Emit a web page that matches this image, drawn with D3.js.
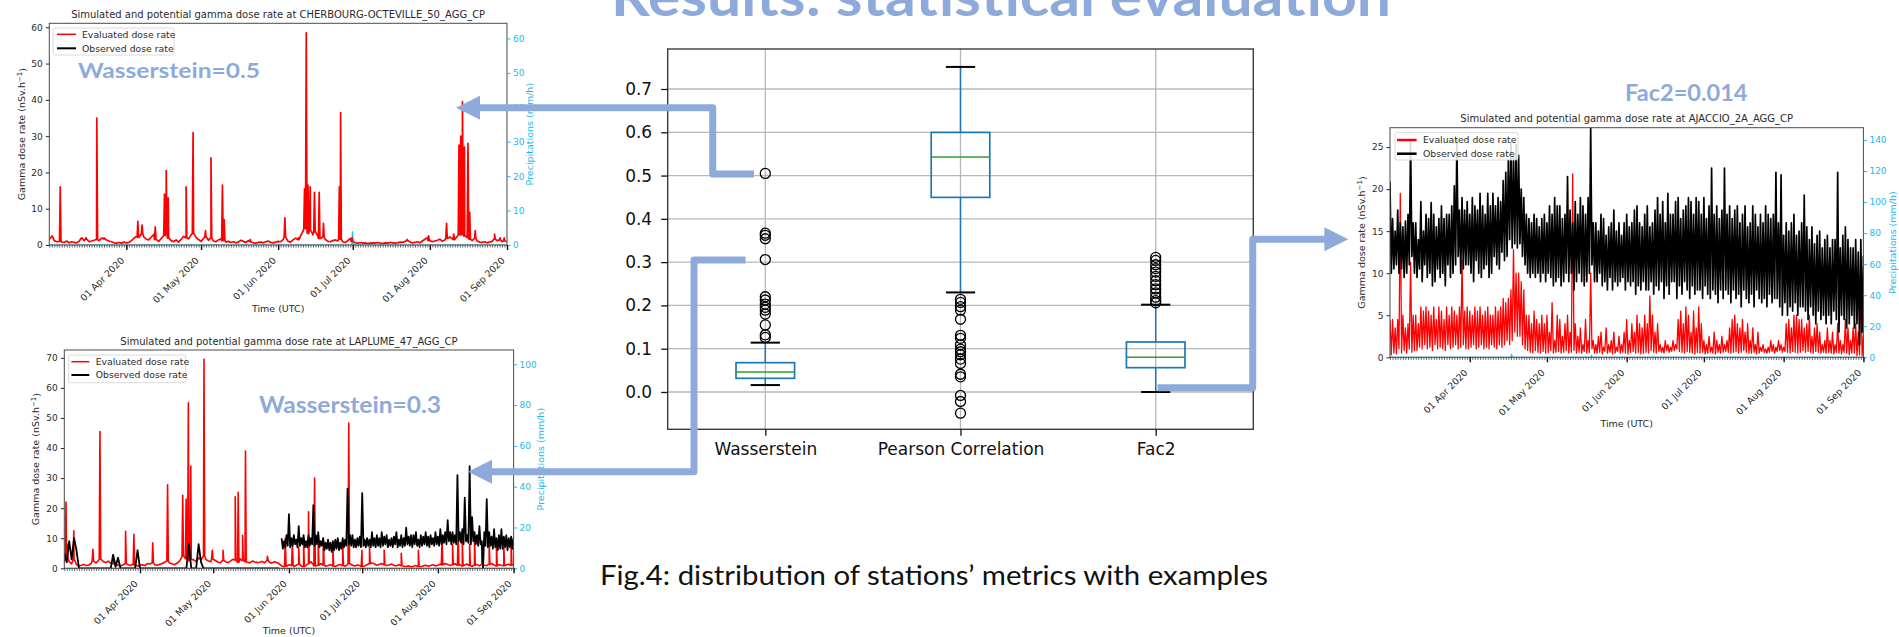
<!DOCTYPE html>
<html><head><meta charset="utf-8">
<script src="https://cdn.jsdelivr.net/npm/d3@7"></script>
<style>body{margin:0;background:#fff}svg{display:block}</style>
</head><body>
<svg id="c" width="1899" height="637"></svg>
<script>
// ---------------- DATA ----------------
const metricNames = ["Wasserstein", "Pearson Correlation", "Fac2"];
const boxQ1 = [0.0316, 0.4496, 0.0562];
const boxMedian = [0.0462, 0.543, 0.0801];
const boxQ3 = [0.0677, 0.5997, 0.1155];
const whiskerLow = [0.016, 0.230, 0.0];
const whiskerHigh = [0.114, 0.751, 0.2017];
const outliersWasserstein = [0.505,0.367,0.362,0.354,0.306,0.220,0.2125,0.203,0.1955,0.189,0.180,0.155,0.132,0.126];
const outliersPearson = [0.214,0.207,0.197,0.189,0.168,0.131,0.124,0.109,0.099,0.093,0.086,0.076,0.066,0.041,0.035,-0.008,-0.022,-0.049];
const outliersFac2 = [0.311,0.304,0.294,0.285,0.277,0.267,0.257,0.248,0.238,0.229,0.219,0.211,0.206];
const boxTicks = [0.0,0.1,0.2,0.3,0.4,0.5,0.6,0.7];

// time series: index / first value = days since 01 Mar 2020 (UTC)
const monthTicks = ["2020-04-01","2020-05-01","2020-06-01","2020-07-01","2020-08-01","2020-09-01"];

const cherbourgEvalBase = [
1.5,2.2,1.2,0.9,1.0,0.8,0.7,1.1,0.6,0.9,
0.7,0.6,1.0,1.8,1.2,1.6,0.9,1.1,1.3,1.5,
1.2,1.9,1.7,1.4,1.1,0.9,0.6,0.5,0.7,0.5,
0.8,0.6,0.7,1.2,1.8,2.4,2.1,3.0,2.2,1.6,
1.4,2.2,2.9,1.5,1.0,1.8,2.6,3.1,1.9,1.2,
0.9,1.4,0.8,1.6,2.4,2.0,1.7,2.8,3.2,2.1,
1.5,1.0,1.8,2.2,1.3,1.9,1.1,0.9,1.4,1.7,
1.2,0.8,1.0,0.7,0.9,0.6,0.8,1.3,1.0,0.7,
1.2,0.9,0.6,0.5,0.7,0.8,0.6,0.9,1.1,0.7,
0.6,0.8,1.0,0.9,1.5,2.2,1.0,0.8,1.4,1.9,
1.5,2.5,3.8,4.5,3.2,4.0,2.8,3.6,2.4,1.8,
2.2,1.5,1.0,0.9,1.2,1.4,1.1,1.6,0.9,0.7,
1.2,1.8,1.0,0.6,0.5,0.7,0.5,0.6,0.4,0.5,
0.6,0.5,0.7,0.5,0.4,0.6,0.5,0.7,0.6,0.5,
0.6,0.8,0.7,1.0,1.2,0.8,0.6,0.7,0.9,0.6,
1.1,1.6,2.0,1.2,0.9,1.1,1.3,1.6,1.0,1.4,
1.8,2.2,1.7,1.5,2.4,2.8,3.0,2.5,2.0,1.6,
1.2,1.8,1.1,0.8,0.7,0.9,0.6,0.8,1.0,1.6,
1.2,1.4,0.9,1.1,1.0];
const cherbourgEvalPeaks = [[1.1,2.5],[4.4,16],[13,2],[14.8,2],[19.1,35],[22,2],[35.6,6.5],[37.3,5.5],[42.6,5],
[46.3,14],[47,20.5],[47.8,13],[55,16],[57.8,31],[62.8,4],[65,24],[69.6,16.5],[70.3,7],[80.8,1.5],[94.7,7.5],
[100.1,2],[102.6,15.5],[103.3,58.5],[104,16.5],[104.9,16],[106.6,14.5],[108.5,14.5],[110.2,6],[116.6,16],
[117.1,36.5],[121.7,2],[143.9,1.5],[152.5,2.5],[159.7,6],[162.6,3],[164.7,27.5],[165.4,30],[166.1,39.5],
[166.9,27],[168.3,28],[169,9],[171.2,4],[179,3],[181.2,2],[182.9,2]];
const cherbourgPrecip = [[0,0],[121.6,0],[121.9,4],[122.2,0],[184,0]];

const laplumeEvalBase = [
2.0,3.5,2.2,1.5,2.8,1.2,0.8,1.0,1.3,0.9,
1.1,1.6,2.4,1.8,2.6,3.0,2.2,1.9,2.4,1.7,
1.5,1.2,1.0,0.8,1.1,1.5,1.3,0.9,1.4,1.1,
0.8,1.0,1.2,0.9,1.6,1.4,1.8,1.2,1.0,1.3,
1.5,2.0,2.4,1.8,1.5,1.2,1.6,2.2,3.5,4.0,
3.2,2.5,3.0,2.8,2.2,3.5,2.8,4.0,3.0,2.4,
2.2,3.0,2.5,2.0,1.8,2.6,2.2,1.9,2.4,3.0,
2.8,2.0,3.2,2.6,2.2,2.0,1.8,2.4,2.1,1.9,
2.0,2.3,1.8,2.6,2.0,1.7,2.2,1.9,1.5,0.8,
0.5,0.7,1.2,0.9,0.6,1.0,1.4,0.8,0.6,0.9,
1.5,2.2,1.2,0.8,1.0,1.6,1.1,0.7,0.9,1.2,
0.8,0.6,1.0,1.3,0.9,0.7,1.2,1.6,1.0,0.8,
1.1,0.9,0.6,0.8,1.2,1.5,1.8,1.4,1.0,1.3,
1.6,1.2,0.9,1.1,1.4,1.0,0.8,1.2,0.9,0.7,
0.6,0.8,0.5,0.7,0.9,0.6,0.5,0.8,1.0,0.7,
0.9,1.2,0.8,1.0,1.4,1.1,1.6,1.3,0.9,1.2,
1.5,1.0,1.2,0.8,1.1,1.4,0.9,0.7,1.0,1.3,
0.8,1.2,1.0,0.9,1.3,1.6,1.1,0.8,1.2,1.0,
0.9,1.1,1.4,1.0,1.2];
const laplumeEvalPeaks = [[0.7,22],[1.2,8],[3.9,12.5],[11.7,6.3],[14.6,45.5],[20.4,3],[25.1,12.3],[28.5,11.3],
[36.2,8.5],[42.3,27.8],[48.5,24.3],[49.9,23],[50.8,55],[51.8,34],[57.2,69.5],[60.6,6],[65,6],[70,23.8],
[71.2,25.3],[73,11],[74.2,39],[83.2,4],[90.5,10],[93.4,9],[96,7],[98,9],[100,18.8],[102.5,30],[104,8],
[106.1,10],[110,7],[114,9],[116.5,48.3],[121.9,6],[125,7],[131,6],[138,5],[145,6],[154.7,10],[159,8],
[161.3,12],[163,9],[166,8],[168,10],[171,7],[174,9],[177,8],[180,7],[183,10]];
// observed, days 0..88 (one value per day)
const laplumeObsEarly = [
5,2,9,3,10,6,0,0,0,0,
0,0,0,0,0,0,0,0,0,0,
4.5,0.5,3.5,0,0,0,0,0,0,0,
6,0,0,0,0,0,0,0,0,0,
0,0,0,0,0,0,0,0,0,0,
0,8,0,0,0,8,2,0,0,0,
0,0,0,0,0,0,0,0,0,0,
0,0,0,0,0,0,0,0,0,0,
0,0,0,0,0,0,0,0,0];
// observed, days 89..184: daily high / low
const laplumeObsHigh = [
10,9,11,18,10,11,9.5,14,10,11,
9,11,10,21,11,12,9,10,8.5,9.5,
8.5,9,9.5,10,8.5,10,9.5,26.5,11,11,
9.5,10,10.5,25,9.5,10,9.5,12,10,11,
10,12,10.5,11,9.5,10,10.5,12,9.5,11,
10,13.5,10.5,11,11,12,9.5,11,10.5,12,
10.5,11,10,12,10.5,13,11,12,16,12,
12,11,31,12,13,23.5,11,34,17,12,
11,14,9,12,23,12,10.5,13,10,11,
13,10.5,11,10,10.5,10];
const laplumeObsLow = [
6.5,7,7.5,7,7.5,8,7,7.5,8,7,
7,7.5,8,7.5,8,7,7.5,6,6.5,6,
5.5,6,6.5,6,6.5,7,7.5,8,7.5,7,
7,7.5,7,7.5,7,7.5,7,7.5,7,7.5,
7,7.5,8,7,7.5,7,8,7,7.5,7,
7.5,8,7.5,7,8,7.5,7,7.5,8,7.5,
7,8,7.5,8,7.5,8,8.5,8,9,8,
8.5,8,9,8.5,8,9,8.5,8,9,8,
7.5,8,0,7.5,7,7.5,6.5,7,6,6.5,
6.5,7,6,7,6.5,7];
const laplumePrecip = [[0,0],[184,0]];

// Ajaccio: daily high / low
const ajaccioEvalHigh = [
4.5,4.5,3.5,4.5,19.5,5,3.5,4,11.3,5,
5,4,6,5.5,6,5.5,5,6,4.5,6,
5.5,4.5,6,5,6,5.5,5,6,11.5,5.5,
6,5.5,5,6,5.5,6,5,5.5,6,5,
5,6,5.5,6,7,6.5,7,8,12.8,10,
10,9,8,5,5,4,5.5,4.5,4,5,
4,5,3,6.5,2,5,4.5,2.5,4,5,
3,21.8,4,2.5,3.5,1.5,4.5,2,10,2,
1.5,2.5,3,1.2,3.5,1.5,2,3,1.2,2.5,
1.5,3,4.5,2,4,3,5,4,3.5,5,
4,7.3,5,3,4,1.5,1.2,2,1.5,1.2,
2,1.5,4.5,5.5,4,6,5,3,5.5,3.5,
6,4,2,1.5,2.5,1.2,3,2,1.5,2.5,
1.5,2,3.5,4.5,5,4,3.5,4.5,3,4,
2,3.5,1.5,3,1.2,1.5,1,1.2,2,1.5,
1.2,2,1.5,1.2,4,4.5,3.5,5,5,4.5,
4.5,3.5,4,5,2.5,3.5,4,3,1.5,2,
3.5,2,3,1.5,4,2,1.5,4.5,3.5,2,
3.5,4,3,9,2.5];
const ajaccioEvalLow = [
0.3,0.5,0.4,1,0.5,0.8,0.5,1,0.6,0.8,
0.8,1.2,1,1.5,1,1.2,0.8,1.5,1,1.2,
1,0.8,1.5,1,1.2,1.5,1,1.2,1.5,1,
1,1.2,1.5,1,1.2,1.5,1,1.2,1,1.5,
1.2,1,1.5,1.2,1.5,2,1.5,2,3,2.5,
2.5,1.5,1,0.8,0.6,0.5,0.8,0.6,0.5,0.7,
0.5,0.6,0.8,0.5,0.6,0.7,0.5,0.6,0.8,0.5,
0.6,0.8,0.5,0.6,0.5,0.7,0.5,0.6,1,0.5,
0.5,0.6,0.4,0.7,0.5,0.6,0.4,0.5,0.7,0.5,
0.6,0.5,0.4,0.6,0.7,0.5,0.6,0.4,0.5,0.6,
0.5,0.8,0.6,0.5,0.7,0.6,0.5,0.8,0.6,0.7,
0.8,1,0.7,0.6,0.5,0.7,0.6,0.5,0.4,0.6,
0.5,0.6,0.4,0.5,0.6,0.5,0.4,0.6,0.5,0.6,
0.7,0.6,0.5,0.6,0.7,0.5,0.6,0.8,0.6,0.5,
0.5,0.6,0.4,0.5,0.7,0.6,0.5,0.6,0.7,0.5,
0.7,0.8,0.6,0.7,0.6,0.5,0.7,0.6,0.5,0.6,
0.8,0.6,0.7,0.6,0.5,0.7,0.6,0.5,0.6,0.5,
0.6,0.5,0.4,0.6,0.5,0.4,0.6,0.5,0.3,0.5,
0.5,0.2,0.3,0.2,0.3];
const ajaccioObsHigh = [
20.9,16.5,15,17.5,16,15.5,16.2,17,25.7,16,
16,14,18.5,15,17,16.5,18.4,17,15.5,16.5,
18,16.5,17,17,18,20.4,26,17.5,19,17.5,
18.5,17,19,18,17.5,19.5,18,17,19.5,18,
19.5,18,19,18.5,21,22,23.5,25.5,24,25.3,
24,20,19,17,16.5,16,17,16.5,15.5,16.5,
17,16,18,17,19,18,18,16.5,17,21.5,
17.5,16,18.5,17,19,18,17,19,27.3,16,
16,15,17,16.5,14.5,15.5,16,17.5,15,16,
14.5,16,17,15.5,16,17.5,18,16,15.5,17,
18,15.5,16,17.5,19,17,18.5,16,19.5,17,
17,18.5,19,16.5,17.5,18,19,18.5,17,19,
18.5,17,19,16.5,18,22.5,17,18,16.5,17.5,
22.5,17,18,16.5,17.5,18,16,17,18,15.5,
16,18,17,15.5,17,16,18,17,16.5,17,
22,16,21.7,14.5,16,15,16,17,14.5,15,
16,19.3,15.5,14,15.5,13.5,14.5,15,13,14,
14.5,13,14,14,22,13,14.5,15.5,14,13,
13,14,12.5,14,12];
const ajaccioObsLow = [
10,10.5,11,10,10.5,9.5,10,11,12,10,
9.5,10.5,9,11,9.5,10,8.5,9,10.5,9.5,
10,8.5,11,9.5,10,11,12,10,10.5,11,
11,10,9,11.5,10,9.5,10.5,11,9.5,10,
12,11,10.5,12.5,11.5,12,14,13,13.5,13,
13.5,12,11,10,9.5,10,9.5,10,9,10,
9,10,9.5,8.5,9,9.5,8.5,9,10,9,
10,8,9,10,9,8.5,9,10,11,9,
9,10,8.5,9,8,9.5,8,9,8.5,9,
9.5,8,9,8.5,9,7.5,8.5,8,9,8,
8,9,7.5,8.5,8,9,7,8.5,7.5,9,
9,7,8.5,7.5,9,8,7,8.5,7.5,8,
8,7,8.5,7.5,7,8,7.5,6.5,8,7,
8,7.5,6.5,8,7,7.5,6,8,7,6.5,
7.5,6,8,7,6.5,7,6,7.5,6.5,7,
7,6,5,6.5,5,6,5.5,6.5,5,6,
6,5.5,4.5,6,5,4,5.5,4.5,5,4,
5,4,5.5,4.5,3,5,4.5,3.5,4,5,
3.5,4,1.5,3,4];
const ajaccioPrecip = [[0,0],[47,0],[47.3,1.5],[47.6,0],[78,0],[78.3,1],[78.6,0],[184,0]];

// ---------------- DRAWING ----------------
const svg = d3.select("#c").style("font-family","'DejaVu Sans', sans-serif");
const DAY = 864e5, T0 = Date.UTC(2020,2,1), T1 = Date.UTC(2020,8,1);
const toDate = d => new Date(T0 + d*DAY);
const RED = "#ff0000", BLK = "#000000", CY = "#22b8ee", BLUE = "#8eaadb", TXT = "#2a2a2a";

function spiky(base, peaks){
  const pts = base.map((v,i)=>[i,v]);
  peaks.forEach(([d,v])=>{
    const b = base[Math.min(base.length-1, Math.round(d))];
    pts.push([d-0.3,b],[d,v],[d+0.3,b]);
  });
  return pts.sort((a,b)=>a[0]-b[0]);
}
const indexed = (arr, start=0) => arr.map((v,i)=>[start+i,v]);
function highLow(hi, lo, start=0){
  const pts = [];
  hi.forEach((v,i)=>{ pts.push([start+i, v]); pts.push([start+i+0.5, lo[i]]); });
  return pts;
}

function styleAxis(g, color, fs){
  g.select(".domain").remove();
  g.selectAll(".tick line").attr("stroke", color);
  g.selectAll(".tick text").attr("fill", color).style("font-size", fs+"px").style("font-family","'DejaVu Sans', sans-serif");
}

function drawTS(c){
  const g = svg.append("g");
  const x = d3.scaleUtc().domain([T0,T1]).range([c.l,c.r]);
  const y = d3.scaleLinear().domain(c.yDom).range([c.b,c.t]);
  const yp = d3.scaleLinear().domain(c.pDom).range([c.b,c.t]);
  g.append("clipPath").attr("id","clip"+c.id).append("rect")
    .attr("x",c.l).attr("y",c.t).attr("width",c.r-c.l).attr("height",c.b-c.t);
  const plot = g.append("g").attr("clip-path",`url(#clip${c.id})`);
  const lineY = d3.line().x(d=>x(toDate(d[0]))).y(d=>y(d[1]));
  const lineP = d3.line().x(d=>x(toDate(d[0]))).y(d=>yp(d[1]));
  plot.append("path").datum(c.precip).attr("d",lineP).attr("fill","none").attr("stroke",CY).attr("stroke-width",1.2);
  c.series.forEach(s=>{
    plot.append("path").datum(s.pts).attr("d",lineY).attr("fill","none")
      .attr("stroke",s.color).attr("stroke-width",s.w).attr("stroke-linejoin","round");
  });
  g.append("rect").attr("x",c.l).attr("y",c.t).attr("width",c.r-c.l).attr("height",c.b-c.t)
    .attr("fill","none").attr("stroke","#4a4a4a").attr("stroke-width",1);
  const ay = g.append("g").attr("transform",`translate(${c.l},0)`)
    .call(d3.axisLeft(y).tickValues(c.yTicks).tickSize(3.5).tickPadding(3));
  styleAxis(ay, TXT, 9);
  const ap = g.append("g").attr("transform",`translate(${c.r},0)`)
    .call(d3.axisRight(yp).tickValues(c.pTicks).tickSize(3.5).tickPadding(2.5));
  styleAxis(ap, CY, 9);
  const days = d3.utcDay.range(new Date(T0), new Date(T1+1));
  const amn = g.append("g").attr("transform",`translate(0,${c.b})`)
    .call(d3.axisBottom(x).tickValues(days).tickFormat("").tickSize(2.5));
  styleAxis(amn, "#333", 9);
  amn.selectAll(".tick line").attr("stroke-width",0.8);
  const am = g.append("g").attr("transform",`translate(0,${c.b})`)
    .call(d3.axisBottom(x).tickValues(monthTicks.map(s=>new Date(s+"T00:00:00Z")))
      .tickFormat(d3.utcFormat("%d %b %Y")).tickSize(5));
  styleAxis(am, TXT, 9.3);
  am.selectAll(".tick line").attr("stroke","#111").attr("stroke-width",1.4);
  am.selectAll(".tick text").attr("x",-2).attr("y",16).attr("dy",null)
    .attr("text-anchor","end").attr("transform","rotate(-45,-2,16)");
  g.append("text").attr("x",(c.l+c.r)/2).attr("y",c.titleY).attr("dy","0.35em").attr("text-anchor","middle")
    .attr("fill",TXT).style("font-size","10px").text(c.title);
  g.append("text").attr("x",(c.l+c.r)/2).attr("y",c.timeY).attr("dy","0.35em").attr("text-anchor","middle")
    .attr("fill",TXT).style("font-size","9.5px").text("Time (UTC)");
  const yl = g.append("text").attr("transform",`translate(${c.ylabX},${(c.t+c.b)/2}) rotate(-90)`)
    .attr("dy","0.35em").attr("text-anchor","middle").attr("fill",TXT).style("font-size","9.5px");
  yl.append("tspan").text("Gamma dose rate (nSv.h");
  yl.append("tspan").attr("dy","-0.4em").style("font-size","7px").text("−1");
  yl.append("tspan").attr("dy","0.4em").text(")");
  g.append("text").attr("transform",`translate(${c.plabX},${(c.t+c.b)/2}) rotate(-90)`)
    .attr("dy","0.35em").attr("text-anchor","middle").attr("fill",CY).style("font-size","9.5px").text("Precipitations (mm/h)");
  const L = c.legend;
  g.append("rect").attr("x",L.x).attr("y",L.y).attr("width",L.w).attr("height",L.h).attr("rx",2)
    .attr("fill","#fff").attr("fill-opacity",0.85).attr("stroke","#d0d0d0").attr("stroke-width",0.8);
  [["Evaluated dose rate",RED,L.lwR],["Observed dose rate",BLK,L.lwB]].forEach((r,i)=>{
    const yy = L.row0 + i*L.dy;
    g.append("line").attr("x1",L.lx0).attr("x2",L.lx1).attr("y1",yy).attr("y2",yy).attr("stroke",r[1]).attr("stroke-width",r[2]);
    g.append("text").attr("x",L.tx).attr("y",yy).attr("dy","0.35em").attr("fill",TXT).style("font-size","9.3px").text(r[0]);
  });
}

drawTS({id:"A", l:49.3, r:507, t:23.3, b:245, yDom:[0,61.1], yTicks:[0,10,20,30,40,50,60],
  pDom:[0,64.4], pTicks:[0,10,20,30,40,50,60], precip:cherbourgPrecip,
  series:[{pts:spiky(cherbourgEvalBase,cherbourgEvalPeaks), color:RED, w:1.7}],
  title:"Simulated and potential gamma dose rate at CHERBOURG-OCTEVILLE_50_AGG_CP", titleY:14.7, timeY:308.3,
  ylabX:21.4, plabX:530,
  legend:{x:53,y:28,w:121,h:27,row0:34.3,dy:14,lx0:57,lx1:76,tx:82,lwR:1.5,lwB:2}});

drawTS({id:"B", l:64.3, r:513.6, t:350, b:568.3, yDom:[0,72.6], yTicks:[0,10,20,30,40,50,60,70],
  pDom:[0,107], pTicks:[0,20,40,60,80,100], precip:laplumePrecip,
  series:[{pts:spiky(laplumeEvalBase,laplumeEvalPeaks), color:RED, w:1.6},
          {pts:indexed(laplumeObsEarly), color:BLK, w:1.8},
          {pts:highLow(laplumeObsHigh, laplumeObsLow, 89), color:BLK, w:1.8}],
  title:"Simulated and potential gamma dose rate at LAPLUME_47_AGG_CP", titleY:341.7, timeY:630.7,
  ylabX:35.7, plabX:541,
  legend:{x:68.6,y:355,w:117,h:27.7,row0:361.7,dy:13.3,lx0:71.4,lx1:89.3,tx:95.7,lwR:1.5,lwB:2}});

drawTS({id:"C", l:1390, r:1863.4, t:127.7, b:357.3, yDom:[0,27.3], yTicks:[0,5,10,15,20,25],
  pDom:[0,147.9], pTicks:[0,20,40,60,80,100,120,140], precip:ajaccioPrecip,
  series:[{pts:highLow(ajaccioEvalHigh, ajaccioEvalLow), color:RED, w:1.3},
          {pts:highLow(ajaccioObsHigh, ajaccioObsLow), color:BLK, w:1.7}],
  title:"Simulated and potential gamma dose rate at AJACCIO_2A_AGG_CP", titleY:118.3, timeY:424,
  ylabX:1361.7, plabX:1893,
  legend:{x:1395,y:132.7,w:123,h:27.3,row0:140,dy:13.7,lx0:1397,lx1:1416.6,tx:1423,lwR:2.5,lwB:2.5}});

// ---------------- BOXPLOT ----------------
(function(){
  const L=667.7, R=1253.3, T=49, B=429.3;
  const g = svg.append("g");
  const bx = d3.scaleLinear().domain([0.5,3.5]).range([L,R]);
  const by = d3.scaleLinear().domain([-0.0862,0.7924]).range([B,T]);
  const bw = (bx(2)-bx(1))*0.3;
  g.selectAll(".gh").data(boxTicks).join("line").attr("x1",L).attr("x2",R)
    .attr("y1",d=>by(d)).attr("y2",d=>by(d)).attr("stroke","#b8b8b8").attr("stroke-width",1.3);
  g.selectAll(".gv").data([1,2,3]).join("line").attr("y1",T).attr("y2",B)
    .attr("x1",d=>bx(d)).attr("x2",d=>bx(d)).attr("stroke","#b8b8b8").attr("stroke-width",1.3);
  const outl = [outliersWasserstein, outliersPearson, outliersFac2];
  metricNames.forEach((m,i)=>{
    const cx = bx(i+1);
    g.append("line").attr("x1",cx).attr("x2",cx).attr("y1",by(boxQ3[i])).attr("y2",by(whiskerHigh[i])).attr("stroke","#1f77b4").attr("stroke-width",1.5);
    g.append("line").attr("x1",cx).attr("x2",cx).attr("y1",by(boxQ1[i])).attr("y2",by(whiskerLow[i])).attr("stroke","#1f77b4").attr("stroke-width",1.5);
    [whiskerHigh[i], whiskerLow[i]].forEach(v=>{
      g.append("line").attr("x1",cx-bw/4).attr("x2",cx+bw/4).attr("y1",by(v)).attr("y2",by(v)).attr("stroke","#000").attr("stroke-width",2);
    });
    g.append("rect").attr("x",cx-bw/2).attr("width",bw).attr("y",by(boxQ3[i])).attr("height",by(boxQ1[i])-by(boxQ3[i]))
      .attr("fill","none").attr("stroke","#1f77b4").attr("stroke-width",1.7);
    g.append("line").attr("x1",cx-bw/2).attr("x2",cx+bw/2).attr("y1",by(boxMedian[i])).attr("y2",by(boxMedian[i]))
      .attr("stroke","#2ca02c").attr("stroke-width",1.5);
    g.selectAll(null).data(outl[i]).join("circle").attr("cx",cx).attr("cy",d=>by(d)).attr("r",5)
      .attr("fill","none").attr("stroke","#000").attr("stroke-width",1.3);
  });
  g.append("rect").attr("x",L).attr("y",T).attr("width",R-L).attr("height",B-T).attr("fill","none").attr("stroke","#3a3a3a").attr("stroke-width",1.4);
  const ay = g.append("g").attr("transform",`translate(${L},0)`)
    .call(d3.axisLeft(by).tickValues(boxTicks).tickFormat(d3.format(".1f")).tickSize(6.5).tickPadding(9));
  styleAxis(ay,"#111",17);
  ay.selectAll(".tick line").attr("stroke-width",1.3);
  const ax = g.append("g").attr("transform",`translate(0,${B})`)
    .call(d3.axisBottom(bx).tickValues([1,2,3]).tickFormat(i=>metricNames[i-1]).tickSize(6.5).tickPadding(7.5));
  styleAxis(ax,"#111",17);
  ax.selectAll(".tick line").attr("stroke-width",1.3);
})();

// ---------------- ANNOTATIONS ----------------
const ann = svg.append("g");
const conn = [
  {path:[[754,174],[712.7,174],[712.7,107.7],[480,107.7]], tip:[456,107.7], dir:-1},
  {path:[[745.5,260],[694,260],[694,471.7],[492,471.7]], tip:[468,471.7], dir:-1},
  {path:[[1157.5,387.7],[1252.7,387.7],[1252.7,239.3],[1330,239.3]], tip:[1348.3,239.3], dir:1}
];
conn.forEach(c=>{
  ann.append("path").attr("d",d3.line()(c.path)).attr("fill","none").attr("stroke",BLUE)
    .attr("stroke-width",7).attr("stroke-linejoin","round");
  const [tx,ty]=c.tip, bxp = tx - c.dir*24;
  ann.append("path").attr("d",`M${tx},${ty}L${bxp},${ty-12}L${bxp},${ty+12}Z`).attr("fill",BLUE);
});
function bigText(txt,x,y,size,len,weight,color){
  ann.append("text").attr("x",x).attr("y",y).attr("fill",color)
    .style("font-family","Lato, 'Open Sans', sans-serif").style("font-weight",weight).style("font-size",size+"px")
    .attr("textLength",len).attr("lengthAdjust","spacingAndGlyphs").text(txt);
}
bigText("Wasserstein=0.5",78,78.3,20,182,"bold",BLUE);
bigText("Wasserstein=0.3",259,413,22,182,"bold",BLUE);
bigText("Fac2=0.014",1625,100.7,22,122.5,"bold",BLUE);
bigText("Results: statistical evaluation",611,16,56,780,"bold",BLUE);
bigText("Fig.4: distribution of stations\u2019 metrics with examples",600,585,26,668,"normal","#111");
</script>
</body></html>
